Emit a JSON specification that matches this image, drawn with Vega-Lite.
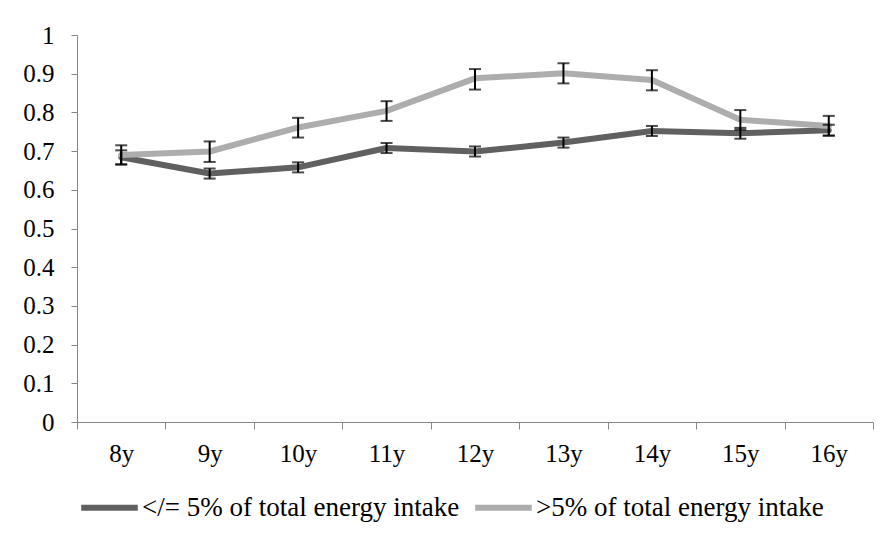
{
  "$schema": "https://vega.github.io/schema/vega-lite/v6.json",
  "width": 796,
  "height": 387,
  "autosize": {"type": "none"},
  "padding": {"left": 77, "top": 35, "right": 20, "bottom": 119},
  "config": {
    "view": {"stroke": null},
    "font": "Liberation Serif",
    "axis": {
      "labelFont": "Liberation Serif", "labelFontSize": 25, "labelColor": "black",
      "domainColor": "#868686", "tickColor": "#868686", "grid": false, "title": null
    },
    "axisX": {"labelAngle": 0, "tickBand": "extent", "tickSize": 7, "labelPadding": 12},
    "axisY": {"tickSize": 6, "labelPadding": 17, "format": "~g"},
    "legend": {"labelFont": "Liberation Serif", "labelFontSize": 27, "labelColor": "black", "labelLimit": 0}
  },
  "data": {
    "values": [
      {"age": "8y", "group": "</= 5% of total energy intake", "value": 0.684, "lo": 0.666, "hi": 0.702},
      {"age": "9y", "group": "</= 5% of total energy intake", "value": 0.642, "lo": 0.629, "hi": 0.655},
      {"age": "10y", "group": "</= 5% of total energy intake", "value": 0.658, "lo": 0.645, "hi": 0.671},
      {"age": "11y", "group": "</= 5% of total energy intake", "value": 0.708, "lo": 0.695, "hi": 0.721},
      {"age": "12y", "group": "</= 5% of total energy intake", "value": 0.699, "lo": 0.686, "hi": 0.712},
      {"age": "13y", "group": "</= 5% of total energy intake", "value": 0.722, "lo": 0.709, "hi": 0.735},
      {"age": "14y", "group": "</= 5% of total energy intake", "value": 0.752, "lo": 0.739, "hi": 0.765},
      {"age": "15y", "group": "</= 5% of total energy intake", "value": 0.746, "lo": 0.732, "hi": 0.76},
      {"age": "16y", "group": "</= 5% of total energy intake", "value": 0.754, "lo": 0.74, "hi": 0.768},
      {"age": "8y", "group": ">5% of total energy intake", "value": 0.69, "lo": 0.665, "hi": 0.715},
      {"age": "9y", "group": ">5% of total energy intake", "value": 0.699, "lo": 0.672, "hi": 0.725},
      {"age": "10y", "group": ">5% of total energy intake", "value": 0.761, "lo": 0.735, "hi": 0.786},
      {"age": "11y", "group": ">5% of total energy intake", "value": 0.804, "lo": 0.778, "hi": 0.829},
      {"age": "12y", "group": ">5% of total energy intake", "value": 0.888, "lo": 0.859, "hi": 0.912},
      {"age": "13y", "group": ">5% of total energy intake", "value": 0.901, "lo": 0.875, "hi": 0.927},
      {"age": "14y", "group": ">5% of total energy intake", "value": 0.884, "lo": 0.857, "hi": 0.909},
      {"age": "15y", "group": ">5% of total energy intake", "value": 0.781, "lo": 0.755, "hi": 0.806},
      {"age": "16y", "group": ">5% of total energy intake", "value": 0.765, "lo": 0.74, "hi": 0.791}
    ]
  },
  "layer": [
    {
      "mark": {"type": "line", "strokeWidth": 6, "strokeCap": "round", "strokeJoin": "round"},
      "encoding": {
        "x": {
          "field": "age", "type": "ordinal", "sort": null, "bandPosition": 0.5,
          "scale": {"type": "band", "paddingInner": 0, "paddingOuter": 0}
        },
        "y": {
          "field": "value", "type": "quantitative",
          "scale": {"domain": [0, 1]},
          "axis": {"values": [0, 0.1, 0.2, 0.3, 0.4, 0.5, 0.6, 0.7, 0.8, 0.9, 1]}
        },
        "color": {
          "field": "group", "type": "nominal",
          "scale": {
            "domain": ["</= 5% of total energy intake", ">5% of total energy intake"],
            "range": ["#606060", "#adadad"]
          },
          "legend": {
            "orient": "none", "legendX": 1, "legendY": 441, "direction": "horizontal",
            "title": null, "symbolType": "stroke", "symbolStrokeWidth": 6, "symbolSize": 3200,
            "columnPadding": 3, "labelOffset": 1
          }
        }
      }
    },
    {
      "mark": {"type": "rule", "color": "black", "strokeWidth": 2},
      "encoding": {
        "x": {"field": "age", "type": "ordinal", "sort": null, "bandPosition": 0.5},
        "y": {"field": "lo", "type": "quantitative", "axis": {"values": [0, 0.1, 0.2, 0.3, 0.4, 0.5, 0.6, 0.7, 0.8, 0.9, 1]}},
        "y2": {"field": "hi"}
      }
    },
    {
      "mark": {"type": "tick", "color": "black", "thickness": 2, "size": 12},
      "encoding": {
        "x": {"field": "age", "type": "ordinal", "sort": null},
        "y": {"field": "lo", "type": "quantitative", "axis": {"values": [0, 0.1, 0.2, 0.3, 0.4, 0.5, 0.6, 0.7, 0.8, 0.9, 1]}}
      }
    },
    {
      "mark": {"type": "tick", "color": "black", "thickness": 2, "size": 12},
      "encoding": {
        "x": {"field": "age", "type": "ordinal", "sort": null},
        "y": {"field": "hi", "type": "quantitative", "axis": {"values": [0, 0.1, 0.2, 0.3, 0.4, 0.5, 0.6, 0.7, 0.8, 0.9, 1]}}
      }
    }
  ]
}
